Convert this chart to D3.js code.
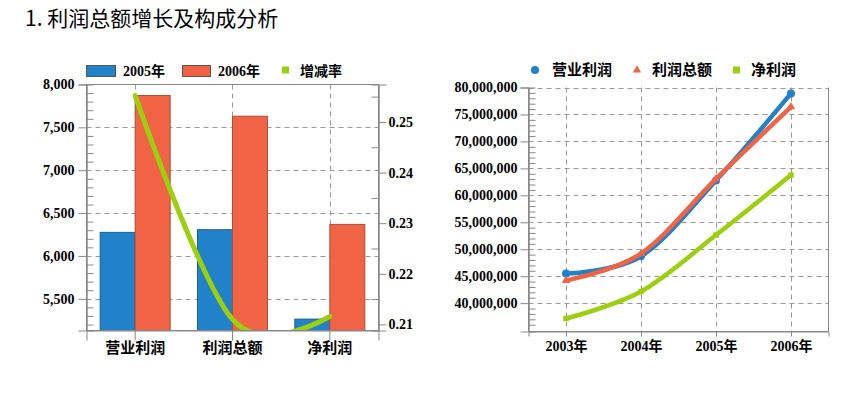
<!DOCTYPE html>
<html lang="zh">
<head>
    <meta charset="UTF-8">
    <title>利润总额增长及构成分析</title>
    <script src="https://d3js.org/d3.v7.min.js"></script>
    <style>
        body { margin: 0; background: #fff; }
        svg text { font-family: "Liberation Serif", "Noto Sans CJK SC", serif; font-weight: bold; fill: #000; }
        .title { font-family: "Noto Sans CJK SC", sans-serif !important; font-weight: normal !important; font-size: 21px; }
        .grid line { stroke: #999; stroke-dasharray: 5,4; }
        .frame { stroke: #888; fill: none; }
    </style>
</head>
<body>
<svg id="chart" width="849" height="395"></svg>
<script>
    // bar chart data (left)
    const barCats = ["营业利润", "利润总额", "净利润"];
    const v2005 = [6275, 6306, 5263];
    const v2006 = [7872, 7630, 6368];
    const rate = [0.2552, 0.2110, 0.2116];
    const leftTicks = [5500, 6000, 6500, 7000, 7500, 8000];
    const rateTicks = [0.21, 0.22, 0.23, 0.24, 0.25];

    // line chart data (right)
    const years = ["2003年", "2004年", "2005年", "2006年"];
    const opProfit = [45500000, 48700000, 62750000, 78900000];
    const totalProfit = [44200000, 49200000, 63060000, 76400000];
    const netProfit = [37150000, 42150000, 52630000, 63760000];
    const rightTicks = [40000000, 45000000, 50000000, 55000000, 60000000, 65000000, 70000000, 75000000, 80000000];

    const blue = "#2181c9", orange = "#f06344", green = "#9ccf0e";
    const svg = d3.select("#chart");

    svg.append("text").attr("class", "title")
        .attr("x", 25).attr("y", 26)
        .text("1. 利润总额增长及构成分析");

    // ---------- left chart ----------
    const L = {x0: 86.5, x1: 378.5, y0: 84.5, y1: 330.5};
    const xBand = d3.scaleBand().domain(barCats).range([L.x0, L.x1]);
    const yLeft = d3.scaleLinear().domain([5130, 8000]).range([L.y1, L.y0]);
    const yRate = d3.scaleLinear().domain([0.2088, 0.2574]).range([L.y1, L.y0]);
    const cx = d => xBand(d) + xBand.bandwidth() / 2;

    const gl = svg.append("g");

    // grid
    const gridL = gl.append("g").attr("class", "grid");
    gridL.selectAll(".h").data(leftTicks.slice(0, -1)).join("line")
        .attr("x1", L.x0).attr("x2", L.x1)
        .attr("y1", d => Math.round(yLeft(d)) + 0.5).attr("y2", d => Math.round(yLeft(d)) + 0.5);
    gridL.selectAll(".v").data(barCats).join("line")
        .attr("x1", d => Math.round(cx(d)) + 0.5).attr("x2", d => Math.round(cx(d)) + 0.5)
        .attr("y1", L.y0).attr("y2", L.y1);

    // bars
    const half = 35;
    gl.selectAll(".b05").data(barCats).join("rect")
        .attr("x", d => cx(d) - half).attr("width", half)
        .attr("y", (d, i) => yLeft(v2005[i])).attr("height", (d, i) => L.y1 - yLeft(v2005[i]))
        .attr("fill", blue).attr("stroke", "#1b5f94").attr("stroke-width", 1);
    gl.selectAll(".b06").data(barCats).join("rect")
        .attr("x", d => cx(d)).attr("width", half)
        .attr("y", (d, i) => yLeft(v2006[i])).attr("height", (d, i) => L.y1 - yLeft(v2006[i]))
        .attr("fill", orange).attr("stroke", "#a8503a").attr("stroke-width", 1);

    // growth rate line
    svg.append("clipPath").attr("id", "clipL").append("rect")
        .attr("x", L.x0).attr("y", L.y0 - 10).attr("width", L.x1 - L.x0).attr("height", L.y1 - L.y0 + 10);
    gl.append("path")
        .datum(barCats.map((c, i) => [cx(c), yRate(rate[i])]))
        .attr("clip-path", "url(#clipL)")
        .attr("d", d3.line().curve(d3.curveCardinal.tension(0)))
        .attr("fill", "none").attr("stroke", green).attr("stroke-width", 5)
        .attr("stroke-linecap", "round");

    // frame
    gl.append("rect").attr("class", "frame")
        .attr("x", L.x0).attr("y", L.y0).attr("width", L.x1 - L.x0).attr("height", L.y1 - L.y0);

    // left axis
    gl.append("g").attr("transform", `translate(${L.x0},0)`)
        .call(d3.axisLeft(yLeft).tickValues(leftTicks).tickSize(8).tickPadding(4).tickFormat(d3.format(",")))
        .selectAll("text").attr("font-size", 14);
    gl.append("g").attr("transform", `translate(${L.x0},0)`)
        .call(d3.axisLeft(yLeft).tickValues(d3.range(5200, 8000, 100).filter(v => v % 500)).tickSize(-7).tickFormat(""));
    // right axis
    gl.append("g").attr("transform", `translate(${L.x1},0)`)
        .call(d3.axisRight(yRate).tickValues(rateTicks).tickSize(8).tickPadding(2).tickFormat(d3.format(".2f")))
        .selectAll("text").attr("font-size", 14);
    gl.append("g").attr("transform", `translate(${L.x1},0)`)
        .call(d3.axisRight(yRate).tickValues([0.215, 0.225, 0.235, 0.245, 0.255]).tickSize(-7).tickFormat(""));
    // bottom axis
    gl.append("g").attr("transform", `translate(0,${L.y1})`)
        .call(d3.axisBottom(xBand).tickSize(10).tickPadding(2))
        .selectAll("text").attr("font-size", 15);

    // left legend
    const legL = gl.append("g");
    legL.append("rect").attr("x", 86.5).attr("y", 65.5).attr("width", 29).attr("height", 11)
        .attr("fill", blue).attr("stroke", "#555");
    legL.append("text").attr("x", 123).attr("y", 76).attr("font-size", 14).text("2005年");
    legL.append("rect").attr("x", 182.5).attr("y", 65.5).attr("width", 28).attr("height", 11)
        .attr("fill", orange).attr("stroke", "#555");
    legL.append("text").attr("x", 218).attr("y", 76).attr("font-size", 14).text("2006年");
    legL.append("rect").attr("x", 282).attr("y", 66.5).attr("width", 7).attr("height", 7).attr("fill", green);
    legL.append("text").attr("x", 300).attr("y", 76).attr("font-size", 14).text("增减率");

    // ---------- right chart ----------
    const R = {x0: 528.5, x1: 828.5, y0: 87.5, y1: 331.5};
    const xPt = d3.scalePoint().domain(years).range([R.x0, R.x1]).padding(0.5);
    const yR = d3.scaleLinear().domain([34740000, 80000000]).range([R.y1, R.y0]);
    const gr = svg.append("g");

    const gridR = gr.append("g").attr("class", "grid");
    gridR.selectAll(".h").data(rightTicks).join("line")
        .attr("x1", R.x0).attr("x2", R.x1)
        .attr("y1", d => Math.round(yR(d)) + 0.5).attr("y2", d => Math.round(yR(d)) + 0.5);
    gridR.selectAll(".v").data(years).join("line")
        .attr("x1", d => Math.round(xPt(d)) + 0.5).attr("x2", d => Math.round(xPt(d)) + 0.5)
        .attr("y1", R.y0).attr("y2", R.y1);

    gr.append("path").attr("class", "frame")
        .attr("d", `M${R.x0},${R.y0}V${R.y1}H${R.x1}V${R.y0}`);

    gr.append("g").attr("transform", `translate(${R.x0},0)`)
        .call(d3.axisLeft(yR).tickValues(rightTicks).tickSize(8).tickPadding(3).tickFormat(d3.format(",")))
        .selectAll("text").attr("font-size", 14);
    gr.append("g").attr("transform", `translate(${R.x0},0)`)
        .call(d3.axisLeft(yR).tickValues(d3.range(35000000, 80000000, 1000000).filter(v => v % 5000000)).tickSize(-7).tickFormat(""));
    gr.append("g").attr("transform", `translate(0,${R.y1})`)
        .call(d3.axisBottom(xPt).tickSize(5).tickPadding(5))
        .selectAll("text").attr("font-size", 14);

    const series = [
        {name: "营业利润", values: opProfit, color: blue, shape: d3.symbolCircle, size: 50},
        {name: "利润总额", values: totalProfit, color: orange, shape: d3.symbolTriangle, size: 30},
        {name: "净利润", values: netProfit, color: green, shape: d3.symbolSquare, size: 30}
    ];
    const lineR = d3.line().x((d, i) => xPt(years[i])).y(d => yR(d)).curve(d3.curveCardinal.tension(0));
    series.forEach(s => {
        gr.append("path").datum(s.values).attr("d", lineR)
            .attr("fill", "none").attr("stroke", s.color).attr("stroke-width", 4.5).attr("stroke-linecap", "round");
        gr.selectAll(null).data(s.values).join("path")
            .attr("transform", (d, i) => `translate(${xPt(years[i])},${yR(d)})`)
            .attr("d", d3.symbol(s.shape, s.size)).attr("fill", s.color);
    });

    // right legend
    const legR = gr.append("g");
    legR.append("circle").attr("cx", 535).attr("cy", 70).attr("r", 4).attr("fill", blue);
    legR.append("text").attr("x", 552).attr("y", 75).attr("font-size", 15).text("营业利润");
    legR.append("path").attr("transform", "translate(637,70)").attr("d", d3.symbol(d3.symbolTriangle, 30)).attr("fill", orange);
    legR.append("text").attr("x", 652).attr("y", 75).attr("font-size", 15).text("利润总额");
    legR.append("rect").attr("x", 733).attr("y", 66.5).attr("width", 7).attr("height", 7).attr("fill", green);
    legR.append("text").attr("x", 751).attr("y", 75).attr("font-size", 15).text("净利润");

    // axis styling
    svg.selectAll(".domain").attr("stroke", "#888");
    svg.selectAll(".tick line").attr("stroke", "#888");
    svg.selectAll("g[font-family]").attr("font-family", null).attr("font-size", null);
</script>
</body>
</html>
